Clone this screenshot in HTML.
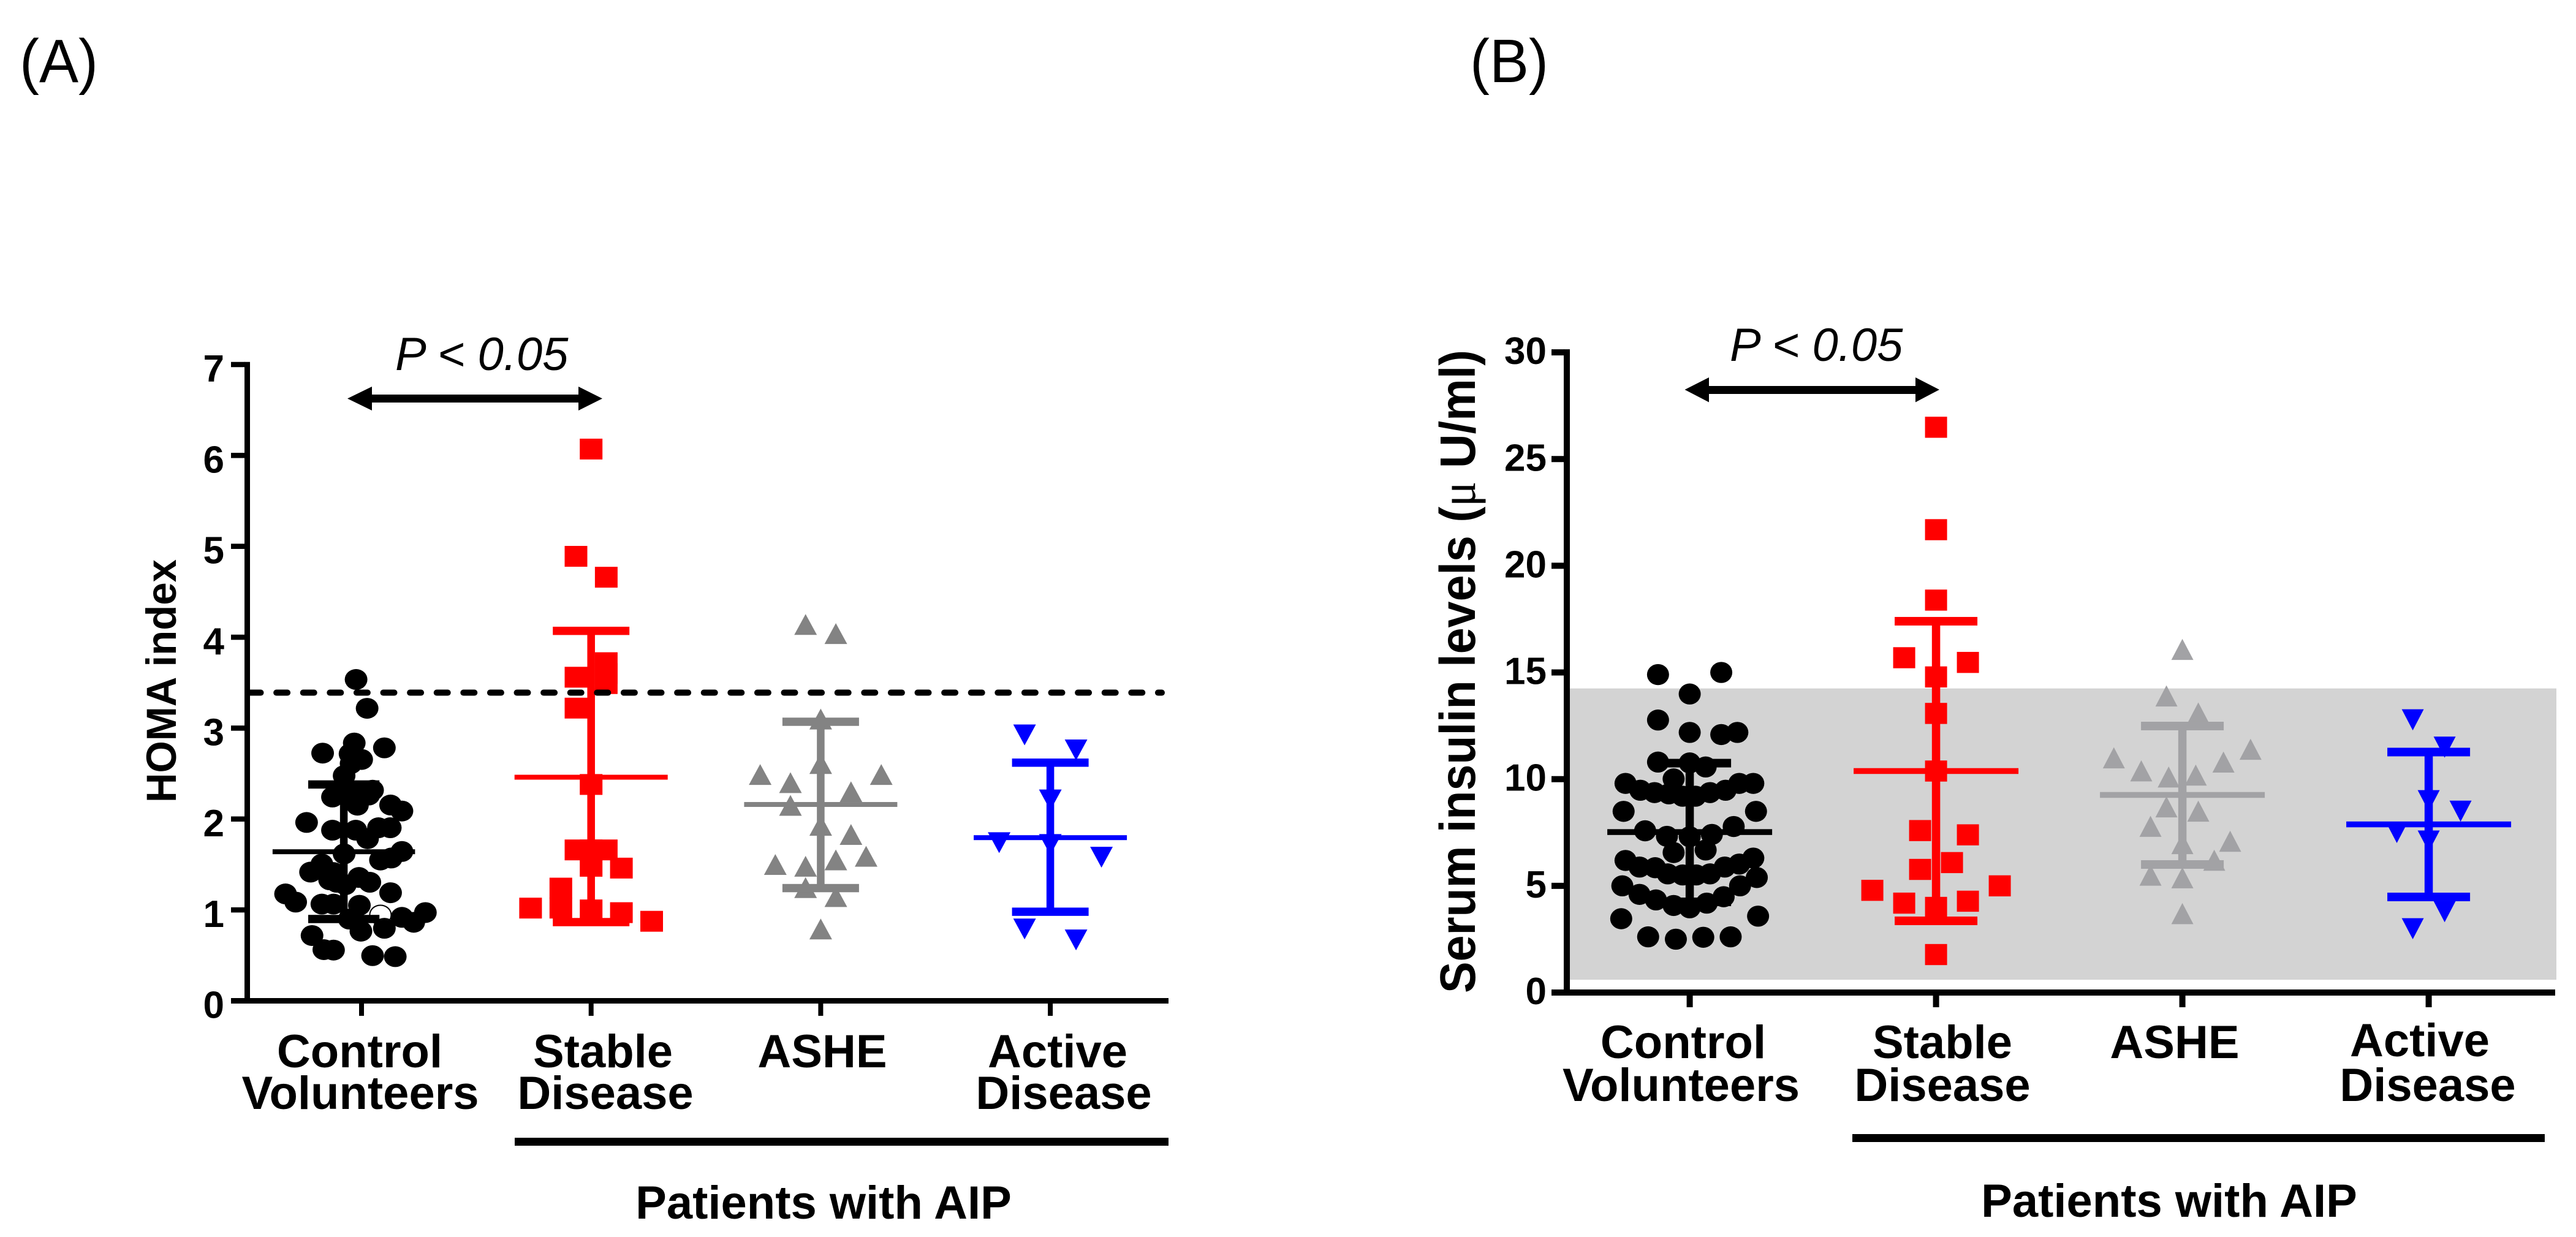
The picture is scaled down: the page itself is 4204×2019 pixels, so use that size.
<!DOCTYPE html>
<html lang="en">
<head>
<meta charset="utf-8">
<title>HOMA index and serum insulin levels</title>
<style>
html,body{margin:0;padding:0;background:#fff}
svg{display:block}
text{font-family:"Liberation Sans",sans-serif;fill:#000}
.b{font-weight:700;font-size:76px;text-anchor:middle}
.p{font-style:italic;font-size:76px}
.t{font-weight:700;font-size:62px;text-anchor:end}
</style>
</head>
<body>
<svg id="figure" xmlns="http://www.w3.org/2000/svg" width="4204" height="2019" viewBox="0 0 4204 2019">
  <rect width="4204" height="2019" fill="#fff"/>

  <g id="panelA"></g>
  <g id="panelB"></g>

  <text x="32" y="134" font-size="100" textLength="128" lengthAdjust="spacingAndGlyphs">(A)</text>
  <text x="2399" y="134" font-size="100" textLength="128" lengthAdjust="spacingAndGlyphs">(B)</text>

  <text transform="translate(287,1310) rotate(-90)" font-size="69" font-weight="700" textLength="397" lengthAdjust="spacingAndGlyphs">HOMA index</text>
  <text transform="translate(2407,1621) rotate(-90)" font-size="82" font-weight="700" textLength="1050" lengthAdjust="spacingAndGlyphs">Serum insulin levels (<tspan style="font-family:'Liberation Serif',serif;font-weight:400">μ</tspan> U/ml)</text>

  <text class="p" x="645" y="604">P &lt; 0.05</text>
  <text class="p" x="2823" y="589">P &lt; 0.05</text>

  <g>
    <rect x="600" y="644" width="350" height="13" fill="#000"/>
    <polygon points="567,650.5 607,631 607,670" fill="#000"/>
    <polygon points="983,650.5 944,631 944,670" fill="#000"/>
  </g>
  <g>
    <rect x="2782" y="630" width="350" height="13" fill="#000"/>
    <polygon points="2749.5,636 2789,616 2789,656.5" fill="#000"/>
    <polygon points="3165,636 3126,616 3126,656.5" fill="#000"/>
  </g>

  <g>
    <text class="b"><tspan x="587" y="1742">Control</tspan><tspan x="588" y="1810">Volunteers</tspan></text>
    <text class="b"><tspan x="984" y="1742">Stable</tspan><tspan x="988" y="1810">Disease</tspan></text>
    <text class="b" x="1342" y="1742">ASHE</text>
    <text class="b"><tspan x="1726" y="1742">Active</tspan><tspan x="1736" y="1810">Disease</tspan></text>
  </g>
  <rect x="840" y="1857" width="1067" height="13" fill="#000"/>
  <text class="b" x="1344" y="1989">Patients with AIP</text>

  <g>
    <text class="b"><tspan x="2747" y="1727">Control</tspan><tspan x="2743.5" y="1797">Volunteers</tspan></text>
    <text class="b"><tspan x="3170" y="1727">Stable</tspan><tspan x="3170" y="1797">Disease</tspan></text>
    <text class="b" x="3549" y="1727">ASHE</text>
    <text class="b"><tspan x="3949" y="1724">Active</tspan><tspan x="3962" y="1797">Disease</tspan></text>
  </g>
  <rect x="3023" y="1851" width="1130" height="13" fill="#000"/>
  <text class="b" x="3540" y="1986">Patients with AIP</text>
</svg>

<script>
// ---- data: panel A (HOMA index) ----
const groups = ['control', 'stable', 'ashe', 'active'];
const homaTicks = [0, 1, 2, 3, 4, 5, 6, 7];
const homaCutoff = 3.39;
const homaMeans = [1.64, 2.46, 2.16, 1.795];
const homaUpper = [2.38, 4.07, 3.07, 2.62];
const homaLower = [0.90, 0.866, 1.24, 0.98];
const homaBarShift = [-1.17, 0, 0, 0];

const homaControl = [3.535,3.218,2.836,2.783,2.725,2.717,2.655,2.610,2.477,2.317,2.242,2.237,2.290,2.264,2.154,2.088,2.152,1.962,1.877,1.877,1.904,1.904,1.784,1.643,1.616,1.571,1.549,1.504,1.416,1.411,1.331,1.357,1.304,1.304,1.277,1.176,1.189,1.086,1.064,1.064,1.051,0.918,0.971,0.864,0.899,0.766,0.798,0.718,0.563,0.558,0.497,0.486];
const homaControlSwarm = [-0.36,0.37,-0.48,1.51,-2.57,-0.76,0.01,-0.69,-1.15,0.73,-1.92,-0.17,-1.07,0.48,1.92,2.67,-0.27,-3.63,-1.92,-0.38,1.12,1.90,0.40,2.67,-1.15,1.97,1.25,-2.62,-3.37,-1.85,-2.11,-0.17,0.55,-1.64,-1.07,-5.02,1.92,-4.35,-2.62,-1.85,-0.14,2.67,4.22,3.45,-0.81,-0.04,1.51,-3.27,-2.49,-1.85,0.73,2.23];
const homaControlOpen = [0.944];
const homaControlOpenSwarm = [1.25];

const homaStable = [6.07,4.89,4.66,3.72,3.60,3.56,3.49,3.22,2.38,1.66,1.66,1.66,1.48,1.46,1.24,1.02,1.02,1.00,0.97,0.875];
const homaStableSwarm = [0,-1,1,1,1,-1,1,-1,0,-1,0,1,0,2,-2,-4,-2,0,2,4];

const homaAshe = [4.14,4.04,3.10,2.61,2.49,2.49,2.40,2.30,2.15,1.93,1.83,1.59,1.55,1.50,1.48,1.245,1.147,0.79];
const homaAsheSwarm = [-1,1,0,0,-4,4,-2,2,-2,0,2,3,1,-3,-1,-1,1,0];

const homaActive = [2.925,2.76,2.21,1.74,1.72,1.58,0.79,0.67];
const homaActiveSwarm = [-1.7,1.7,0,-3.38,0,3.38,-1.7,1.7];

// ---- data: panel B (serum insulin) ----
const insulinTicks = [0, 5, 10, 15, 20, 25, 30];
const insulinRange = [0.6, 14.25];
const insulinMeans = [7.52, 10.38, 9.26, 7.88];
const insulinUpper = [10.75, 17.4, 12.49, 11.27];
const insulinLower = [4.25, 3.36, 6.0, 4.48];
const insulinBarShift = [0, 0, 0, 0];

const insulinControl = [14.9,15.0,13.99,12.77,12.19,12.09,12.19,10.80,10.76,10.57,10.01,9.80,9.80,9.80,9.48,9.37,9.48,9.37,9.31,9.20,9.20,8.49,8.49,7.78,7.58,7.32,7.41,7.30,6.56,6.68,6.19,6.30,5.88,6.02,5.85,5.88,5.56,5.56,5.51,5.51,5.39,5.00,5.00,4.60,4.49,4.34,4.19,4.08,3.97,3.46,3.58,2.61,2.50,2.59,2.61];
const insulinControlSwarm = [-1.99,1.98,0,-1.99,0,1.98,2.99,-1.99,0,1.0,-1.01,-4.03,3.99,3.11,-3.10,-2.21,2.25,1.27,-1.31,-0.45,0.36,-4.15,4.16,2.76,-2.80,-1.43,1.39,0,-1.01,1.0,-4.03,3.99,-3.15,3.11,-2.17,2.2,-1.38,1.27,-0.45,0.41,4.21,-4.23,3.16,-3.15,2.13,-2.12,1.07,-1.01,0,-4.3,4.29,-2.61,-0.87,0.85,2.57];

const insulinStable = [26.49,21.69,18.39,15.69,15.47,14.79,13.08,10.38,7.59,7.39,6.09,5.77,5.0,4.79,4.28,4.19,3.99,1.78];
const insulinStableSwarm = [0,0,0,-2,2,0,0,0,-1,2,1,-1,4,-4,2,-2,0,0];

const insulinAshe = [16.08,13.9,13.1,11.4,11.0,10.8,10.39,10.19,10.1,8.7,8.5,7.79,7.09,6.98,6.2,5.5,5.38,3.7];
const insulinAsheSwarm = [0,-1,1,4.28,-4.3,2.58,-2.58,0.84,-0.86,-1,1,-2,3,0,2,-2,0,0];

const insulinActive = [12.78,11.5,8.99,8.5,7.5,7.1,3.79,2.99];
const insulinActiveSwarm = [-1,1,0,2,-2,0,1,-1];

// ---- drawing ----
const NS = 'http://www.w3.org/2000/svg';
const BLACK = '#000000', RED = '#ff0000', BLUE = '#0000ff';

function make(parent, tag, attrs) {
  const el = document.createElementNS(NS, tag);
  for (const k in attrs) el.setAttribute(k, attrs[k]);
  parent.appendChild(el);
  return el;
}

function drawMarker(g, kind, cx, cy, color, hw, hh) {
  let el;
  if (kind === 'circle') {
    el = make(g, 'ellipse', { cx: cx, cy: cy, rx: hw, ry: hh, fill: color });
  } else if (kind === 'square') {
    el = make(g, 'rect', { x: cx - hw, y: cy - hh, width: hw * 2, height: hh * 2, fill: color });
  } else if (kind === 'up') {
    el = make(g, 'polygon', { points: (cx - hw) + ',' + (cy + hh) + ' ' + (cx + hw) + ',' + (cy + hh) + ' ' + cx + ',' + (cy - hh), fill: color });
  } else {
    el = make(g, 'polygon', { points: (cx - hw) + ',' + (cy - hh) + ' ' + (cx + hw) + ',' + (cy - hh) + ' ' + cx + ',' + (cy + hh), fill: color });
  }
  return el;
}

function drawPanel(cfg) {
  const root = document.getElementById(cfg.id);
  const y = function (v) { return cfg.y0 - v * cfg.yUnit; };
  const x = function (i, s) { return cfg.x0 + i * cfg.xStep + (s || 0) * cfg.slot; };

  if (cfg.band) {
    const band = make(root, 'rect', { x: cfg.axisX + cfg.axisW / 2, y: y(cfg.band[1]), width: cfg.bandRight - cfg.axisX - cfg.axisW / 2, height: y(cfg.band[0]) - y(cfg.band[1]), fill: '#d3d3d3' });
    
    
  }

  // y axis
  const yTop = y(cfg.ticks[cfg.ticks.length - 1]) - cfg.tickT / 2;
  const yAxis = make(root, 'rect', { x: cfg.axisX - cfg.axisW / 2, y: yTop, width: cfg.axisW, height: cfg.y0 - yTop, fill: BLACK });
  
  
  cfg.ticks.forEach(function (t) {
    const tick = make(root, 'rect', { x: cfg.axisX - cfg.axisW / 2 - cfg.tickL, y: y(t) - cfg.tickT / 2, width: cfg.tickL + 1, height: cfg.tickT, fill: BLACK });
    
    
    const lab = make(root, 'text', { 'class': 't', x: cfg.tickLabelX, y: y(t) + cfg.tickLabelDy });
    lab.textContent = String(t);
    
    
  });

  // x axis
  const xAxis = make(root, 'rect', { x: cfg.axisX - cfg.axisW / 2 - cfg.tickL, y: cfg.y0 - cfg.xAxisT / 2, width: cfg.xAxisEnd - (cfg.axisX - cfg.axisW / 2 - cfg.tickL), height: cfg.xAxisT, fill: BLACK });
  
  
  groups.forEach(function (name, i) {
    const tick = make(root, 'rect', { x: x(i) - cfg.xTickW / 2, y: cfg.y0, width: cfg.xTickW, height: cfg.xTickBottom - cfg.y0, fill: BLACK });
    
    
  });

  // points
  cfg.series.forEach(function (s) {
    const g = make(root, 'g', {});
    
    
    (s.open || []).forEach(function (v, k) {
      const o = make(g, 'ellipse', { cx: x(s.index, s.openSwarm[k]), cy: y(v), rx: cfg.hw - 1, ry: cfg.hh - 1, fill: '#fff', stroke: BLACK, 'stroke-width': 2 });
      
      
    });
    s.values.forEach(function (v, k) {
      const m = drawMarker(g, s.kind, x(s.index, s.swarm[k]), y(v), s.color, cfg.hw, cfg.hh);
      
      
    });
  });

  // error bars
  cfg.series.forEach(function (s) {
    const i = s.index;
    const cx = x(i, cfg.barShift[i]);
    const scale = cfg.barScale[i];
    const g = make(root, 'g', {});
    
    
    const whisker = make(g, 'rect', { x: cx - cfg.whisker / 2, y: y(cfg.upper[i]), width: cfg.whisker, height: y(cfg.lower[i]) - y(cfg.upper[i]), fill: s.barColor });
    
    
    const up = make(g, 'rect', { x: cx - cfg.capHalf * scale, y: y(cfg.upper[i]) - cfg.capT / 2, width: cfg.capHalf * 2 * scale, height: cfg.capT, fill: s.barColor });
    
    
    const low = make(g, 'rect', { x: cx - cfg.capHalf * scale, y: y(cfg.lower[i]) - cfg.capT / 2, width: cfg.capHalf * 2 * scale, height: cfg.capT, fill: s.barColor });
    
    
    const mean = make(g, 'rect', { x: cx - cfg.meanHalf * scale, y: y(cfg.means[i]) - cfg.meanT / 2, width: cfg.meanHalf * 2 * scale, height: cfg.meanT, fill: s.barColor });
    
    
  });

  // reference line
  if (cfg.cutoff !== undefined) {
    const line = make(root, 'line', { x1: cfg.axisX + 4, y1: y(cfg.cutoff), x2: cfg.cutoffEnd, y2: y(cfg.cutoff), stroke: BLACK, 'stroke-width': 10, 'stroke-linecap': 'round', 'stroke-dasharray': '18 25.6' });
    
    
  }
}

drawPanel({
  id: 'panelA', y0: 1633.5, yUnit: 148.36, x0: 590, xStep: 374.7, slot: 24.7,
  axisX: 403.5, axisW: 9, tickL: 22, tickT: 8.5, tickLabelX: 366, tickLabelDy: 28,
  xAxisT: 9, xAxisEnd: 1907, xTickW: 8, xTickBottom: 1658,
  hw: 18.5, hh: 17, ticks: homaTicks, means: homaMeans, upper: homaUpper, lower: homaLower,
  barShift: homaBarShift, barScale: [0.93, 1, 1, 1],
  whisker: 12.5, capHalf: 62.5, capT: 13.5, meanHalf: 125, meanT: 8,
  cutoff: homaCutoff, cutoffEnd: 1896,
  series: [
    { name: 'control', index: 0, kind: 'circle', color: BLACK, barColor: BLACK, values: homaControl, swarm: homaControlSwarm, open: homaControlOpen, openSwarm: homaControlOpenSwarm },
    { name: 'stable', index: 1, kind: 'square', color: RED, barColor: RED, values: homaStable, swarm: homaStableSwarm },
    { name: 'ashe', index: 2, kind: 'up', color: '#838383', barColor: '#838383', values: homaAshe, swarm: homaAsheSwarm },
    { name: 'active', index: 3, kind: 'down', color: BLUE, barColor: BLUE, values: homaActive, swarm: homaActiveSwarm }
  ]
});

drawPanel({
  id: 'panelB', y0: 1620, yUnit: 34.83, x0: 2757.6, xStep: 402, slot: 26,
  axisX: 2557, axisW: 10, tickL: 20, tickT: 10, tickLabelX: 2524, tickLabelDy: 19,
  xAxisT: 10, xAxisEnd: 4170, xTickW: 10, xTickBottom: 1644,
  hw: 18, hh: 17.2, ticks: insulinTicks, means: insulinMeans, upper: insulinUpper, lower: insulinLower,
  barShift: insulinBarShift, barScale: [1, 1, 1, 1],
  whisker: 13.5, capHalf: 67.5, capT: 14, meanHalf: 134.5, meanT: 9.5,
  band: insulinRange, bandRight: 4172,
  series: [
    { name: 'control', index: 0, kind: 'circle', color: BLACK, barColor: BLACK, values: insulinControl, swarm: insulinControlSwarm },
    { name: 'stable', index: 1, kind: 'square', color: RED, barColor: RED, values: insulinStable, swarm: insulinStableSwarm },
    { name: 'ashe', index: 2, kind: 'up', color: '#a2a2a5', barColor: '#a2a2a5', values: insulinAshe, swarm: insulinAsheSwarm },
    { name: 'active', index: 3, kind: 'down', color: BLUE, barColor: BLUE, values: insulinActive, swarm: insulinActiveSwarm }
  ]
});
</script>
</body>
</html>
